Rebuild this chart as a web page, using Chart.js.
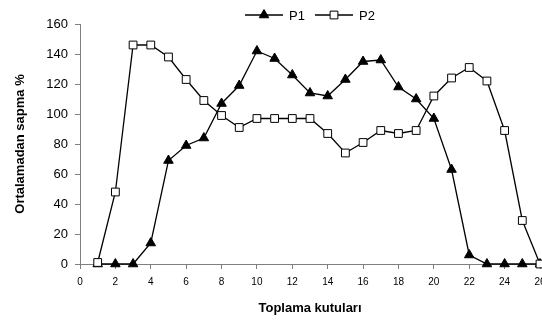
<!DOCTYPE html>
<html>
<head>
<meta charset="utf-8">
<script src="https://cdn.jsdelivr.net/npm/chart.js@4.4.1/dist/chart.umd.min.js"></script>
<style>
  html, body { margin: 0; padding: 0; background: #fff; overflow: hidden; }
  #wrap { width: 542px; height: 323px; }
</style>
</head>
<body>
<div id="wrap"><canvas id="sapmaChart" width="542" height="323"></canvas></div>
<script>
// toplama kutuları (x) ve iki seri
const kutular = [1, 2, 3, 4, 5, 6, 7, 8, 9, 10, 11, 12, 13, 14, 15, 16, 17, 18, 19, 20, 21, 22, 23, 24, 25, 26];
const p1 = [0, 0, 0, 14, 69, 79, 84, 107, 119, 142, 137, 126, 114, 112, 123, 135, 136, 118, 110, 97, 63, 6, 0, 0, 0, 0];
const p2 = [1, 48, 146, 146, 138, 123, 109, 99, 91, 97, 97, 97, 97, 87, 74, 81, 89, 87, 89, 112, 124, 131, 122, 89, 29, 0];
const seriesNames = ['P1', 'P2'];
const xTicks = [0, 2, 4, 6, 8, 10, 12, 14, 16, 18, 20, 22, 24, 26];
const yTicks = [0, 20, 40, 60, 80, 100, 120, 140, 160];

const FONT = '"Liberation Sans", Arial, sans-serif';

function toPoints(vals) {
    return kutular.map((k, i) => ({ x: k, y: vals[i] }));
}

// legend drawn by hand: line with marker in the middle, like the original
const lineLegend = {
    id: 'lineLegend',
    afterDraw(chart) {
        const ctx = chart.ctx;
        const items = [{ ds: 0, x0: 245, x1: 283, tx: 289 }, { ds: 1, x0: 315, x1: 353, tx: 359 }];
        const y = 15;
        ctx.save();
        items.forEach(it => {
            const ds = chart.data.datasets[it.ds];
            ctx.strokeStyle = ds.borderColor;
            ctx.lineWidth = ds.borderWidth;
            ctx.beginPath();
            ctx.moveTo(it.x0, y);
            ctx.lineTo(it.x1, y);
            ctx.stroke();
            ctx.fillStyle = ds.pointBackgroundColor;
            ctx.strokeStyle = ds.pointBorderColor;
            ctx.lineWidth = 1;
            Chart.helpers.drawPoint(ctx, {
                pointStyle: ds.pointStyle,
                radius: ds.pointRadius,
                rotation: 0,
                borderWidth: 1
            }, (it.x0 + it.x1) / 2, y);
            ctx.fillStyle = '#000';
            ctx.font = '13px ' + FONT;
            ctx.textBaseline = 'middle';
            ctx.textAlign = 'left';
            ctx.fillText(ds.label, it.tx, y + 1);
        });
        ctx.restore();
    }
};

new Chart(document.getElementById('sapmaChart'), {
    type: 'line',
    data: {
        datasets: [{
            label: seriesNames[0],
            data: toPoints(p1),
            borderColor: '#000',
            borderWidth: 1.3,
            pointStyle: 'triangle',
            pointRadius: 5.5,
            pointBackgroundColor: '#000',
            pointBorderColor: '#000',
            pointBorderWidth: 1,
            clip: false,
            order: 1
        }, {
            label: seriesNames[1],
            data: toPoints(p2),
            borderColor: '#000',
            borderWidth: 1.3,
            pointStyle: 'rect',
            pointRadius: 5.5,
            pointBackgroundColor: '#fff',
            pointBorderColor: '#000',
            pointBorderWidth: 1,
            clip: false,
            order: 0
        }]
    },
    options: {
        responsive: false,
        animation: false,
        layout: { autoPadding: false, padding: { top: 24, right: 2, left: 0, bottom: 0 } },
        plugins: {
            legend: { display: false },
            tooltip: { enabled: false }
        },
        scales: {
            x: {
                type: 'linear',
                min: 0,
                max: 26,
                afterBuildTicks(scale) {
                    scale.ticks = xTicks.map(v => ({ value: v }));
                },
                afterFit(scale) {
                    scale.height = 59;
                    scale.paddingRight = 0;
                },
                grid: { display: true, drawOnChartArea: false, drawTicks: true, tickLength: 5, color: '#808080' },
                border: { display: true, color: '#808080', width: 1 },
                ticks: {
                    autoSkip: false,
                    maxRotation: 0,
                    padding: 7,
                    color: '#000',
                    font: { family: FONT, size: 10 }
                },
                title: {
                    display: true,
                    text: 'Toplama kutuları',
                    color: '#000',
                    padding: { top: 0, bottom: 7 },
                    font: { family: FONT, size: 13, weight: 'bold' }
                }
            },
            y: {
                min: 0,
                max: 160,
                afterBuildTicks(scale) {
                    scale.ticks = yTicks.map(v => ({ value: v }));
                },
                afterFit(scale) {
                    scale.width = 80;
                },
                grid: { display: true, drawOnChartArea: false, drawTicks: true, tickLength: 5, color: '#808080' },
                border: { display: true, color: '#808080', width: 1 },
                ticks: {
                    padding: 7,
                    color: '#000',
                    font: { family: FONT, size: 13 }
                },
                title: {
                    display: true,
                    text: 'Ortalamadan sapma %',
                    color: '#000',
                    padding: { top: 13, bottom: 0 },
                    font: { family: FONT, size: 13, weight: 'bold' }
                }
            }
        }
    },
    plugins: [lineLegend]
});
</script>
</body>
</html>
